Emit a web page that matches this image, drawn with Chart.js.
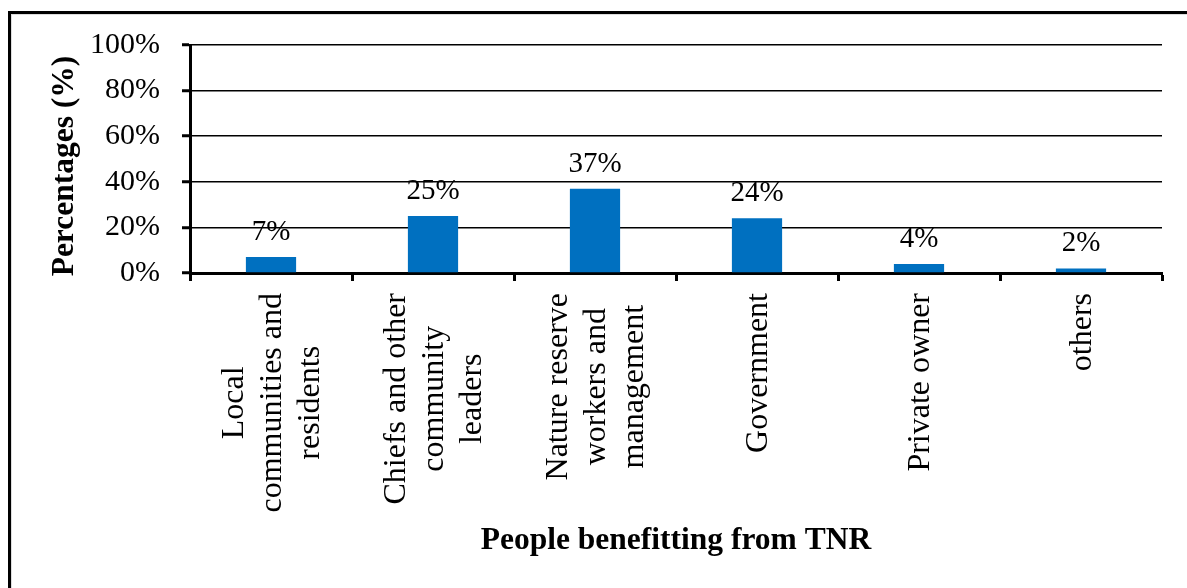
<!DOCTYPE html>
<html>
<head>
<meta charset="utf-8">
<script src="https://cdn.jsdelivr.net/npm/chart.js@4/dist/chart.umd.min.js"></script>
<style>
    body { margin: 0; background: #fff; }
    #wrap { position: relative; width: 1187px; height: 588px; overflow: hidden; }
    #frame {
        position: absolute; left: 8px; top: 11px; width: 1300px; height: 700px;
        border-left: 3px solid #000; border-top: 3px solid #000;
        box-shadow: 1px 1px 0 #ddd inset;
    }
    #benefitChart { position: absolute; left: 0; top: 0; }
</style>
</head>
<body>
<div id="wrap">
    <div id="frame"></div>
    <canvas id="benefitChart" width="1187" height="588"></canvas>
</div>
<script>
let categories = [
    ['Local', 'communities and', 'residents'],
    ['Chiefs and other', 'community', 'leaders'],
    ['Nature reserve', 'workers and', 'management'],
    ['Government'],
    ['Private owner'],
    ['others']
];
let shares = [7, 25, 37, 24, 4, 2];

let serif = '"Liberation Serif", "Times New Roman", serif';
let yTitle = 'Percentages (%)';

// value labels sitting above each bar
let barLabels = {
    id: 'barLabels',
    afterDatasetsDraw(chart) {
        let ctx = chart.ctx;
        let meta = chart.getDatasetMeta(0);
        ctx.save();
        ctx.font = '29px ' + serif;
        ctx.fillStyle = '#000';
        ctx.textAlign = 'center';
        ctx.textBaseline = 'alphabetic';
        meta.data.forEach((bar, i) => {
            ctx.fillText(shares[i] + '%', bar.x, bar.y - 17);
        });
        ctx.restore();
    }
};

// vertical category names, lines centred on each other, hanging from the axis;
// plus the y title, which sits a little below the middle of the plot
let axisText = {
    id: 'axisText',
    afterDraw(chart) {
        let ctx = chart.ctx;
        let xScale = chart.scales.x;
        let yScale = chart.scales.y;
        let lineH = 38;
        ctx.save();
        ctx.font = '32px ' + serif;
        ctx.fillStyle = '#000';
        ctx.textAlign = 'center';
        ctx.textBaseline = 'middle';
        categories.forEach((lines, i) => {
            let cx = xScale.getPixelForValue(i);
            let w = Math.max(...lines.map(l => ctx.measureText(l).width));
            ctx.save();
            ctx.translate(cx + 2, xScale.top + 20);
            ctx.rotate(-Math.PI / 2);
            lines.forEach((line, j) => {
                ctx.fillText(line, -w / 2, (j - (lines.length - 1) / 2) * lineH);
            });
            ctx.restore();
        });

        ctx.font = 'bold 31.5px ' + serif;
        ctx.translate(65, (yScale.top + yScale.bottom) / 2 + 7);
        ctx.rotate(-Math.PI / 2);
        ctx.fillText(yTitle, 0, 0);
        ctx.restore();
    }
};

let ctx = document.getElementById('benefitChart').getContext('2d');

let benefitChart = new Chart(ctx, {
    type: 'bar',
    data: {
        labels: categories,
        datasets: [{
            data: shares,
            backgroundColor: '#0070C0',
            borderWidth: 0,
            categoryPercentage: 1,
            barPercentage: 0.31
        }]
    },
    options: {
        responsive: false,
        animation: false,
        layout: { padding: { left: 0, top: 45, right: 25, bottom: 0 } },
        plugins: {
            legend: { display: false },
            tooltip: { enabled: false }
        },
        scales: {
            x: {
                afterFit(scale) { scale.height = 315; },
                grid: {
                    display: true,
                    drawOnChartArea: false,
                    drawTicks: true,
                    tickLength: 8,
                    tickWidth: 3,
                    tickColor: '#000',
                    offset: true
                },
                border: { color: '#000', width: 3 },
                ticks: { display: false },
                title: {
                    display: true,
                    text: 'People benefitting from TNR',
                    color: '#000',
                    font: { family: serif, size: 31.5, weight: 'bold', lineHeight: 1.2 },
                    padding: { top: 0, bottom: 28 }
                }
            },
            y: {
                min: 0,
                max: 100,
                afterFit(scale) { scale.width = 190; },
                grid: {
                    color: '#000',
                    lineWidth: 1.5,
                    tickLength: 8,
                    tickWidth: 3,
                    tickColor: '#000'
                },
                border: { color: '#000', width: 3 },
                ticks: {
                    stepSize: 20,
                    padding: 22,
                    color: '#000',
                    font: { family: serif, size: 30 },
                    callback: v => v + '%'
                }
            }
        }
    },
    plugins: [barLabels, axisText]
});
</script>
</body>
</html>
